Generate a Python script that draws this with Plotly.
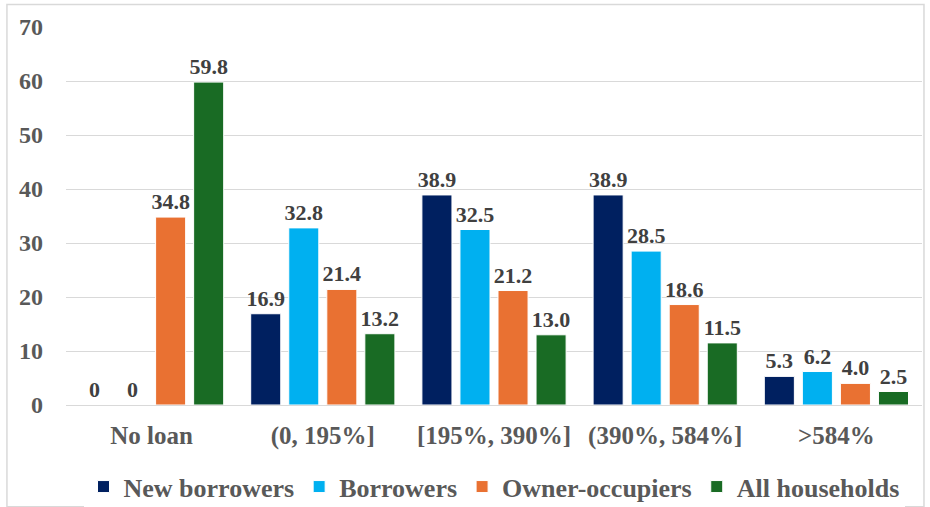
import plotly.graph_objects as go

categories = ["No loan", "(0, 195%]", "[195%, 390%]", "(390%, 584%]", ">584%"]
series_names = ["New borrowers", "Borrowers", "Owner-occupiers", "All households"]
new_borrowers = [0, 16.9, 38.9, 38.9, 5.3]
borrowers = [0, 32.8, 32.5, 28.5, 6.2]
owner_occupiers = [34.8, 21.4, 21.2, 18.6, 4.0]
all_households = [59.8, 13.2, 13.0, 11.5, 2.5]
y_ticks = [0, 10, 20, 30, 40, 50, 60, 70]

colors = ["#002060", "#00B0F0", "#E97132", "#196B24"]
series_values = [new_borrowers, borrowers, owner_occupiers, all_households]

FONT = "Liberation Serif"
GRAY = "#595959"

fig = go.Figure()
for name, vals, col in zip(series_names, series_values, colors):
    fig.add_trace(go.Bar(
        x=categories, y=vals, name=name,
        marker=dict(color=col, line=dict(color="white", width=1)),
        text=[("0" if v == 0 else f"{v:.1f}") for v in vals],
        textposition="outside",
        constraintext="none",
        textfont=dict(family=FONT, size=22, color="#404040", weight="bold"),
        cliponaxis=False,
    ))

fig.update_layout(
    width=930, height=507,
    margin=dict(l=66, r=8, t=27, b=102, autoexpand=False),
    paper_bgcolor="white", plot_bgcolor="white",
    barmode="group", bargap=0.111, bargroupgap=0.21,
    font=dict(family=FONT, size=22, color=GRAY),
    showlegend=True,
    legend=dict(orientation="h", x=0.5, xanchor="center", y=-0.216, yanchor="middle",
                font=dict(family=FONT, size=26, color=GRAY, weight="bold"),
                traceorder="normal", itemwidth=30),
    xaxis=dict(showgrid=False, showline=True, linecolor="#D9D9D9", linewidth=1,
               ticks="", automargin=False, ticklabelstandoff=8,
               tickfont=dict(family=FONT, size=25, color=GRAY, weight="bold")),
    yaxis=dict(range=[0, 70], tickvals=y_ticks, showgrid=True, gridcolor="#D9D9D9",
               gridwidth=1, zeroline=False, showline=False, ticks="", automargin=False,
               tickfont=dict(family=FONT, size=24, color=GRAY, weight="bold"),
               ticklabelstandoff=22),
)

fig.add_shape(type="rect", xref="paper", yref="paper",
              x0=-0.069, x1=1.0023, y0=-0.269, y1=1.0597,
              line=dict(color="#D9D9D9", width=1.5), fillcolor="rgba(0,0,0,0)", layer="below")

fig.write_html("out.html", config={"displayModeBar": False},
               post_script="document.body.style.margin='0';")
